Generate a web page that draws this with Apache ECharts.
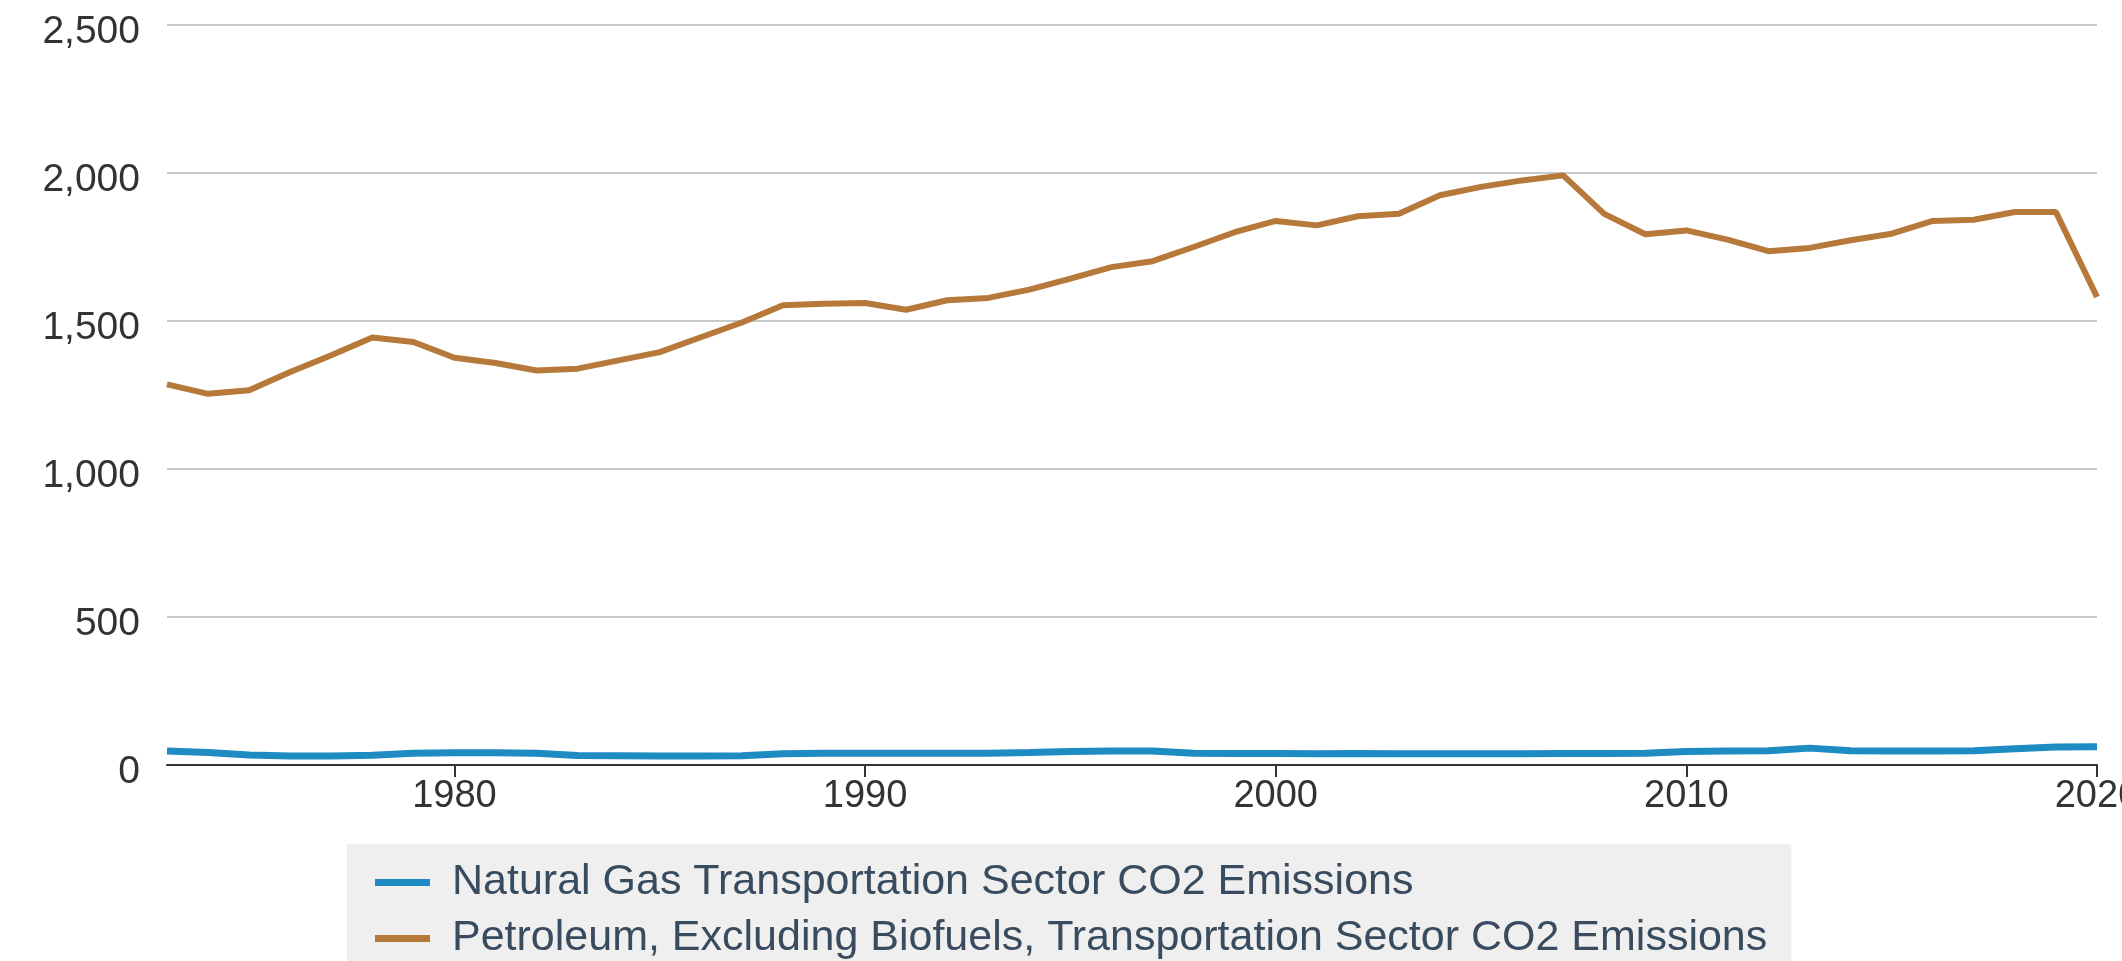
<!DOCTYPE html>
<html>
<head>
<meta charset="utf-8">
<script src="https://cdn.jsdelivr.net/npm/echarts@6/dist/echarts.min.js"></script>
<style>
  html, body { margin: 0; padding: 0; background: #fff; }
  #chart { width: 2122px; height: 961px; }
</style>
</head>
<body>
<div id="chart"></div>
<script>
const years = [
  '1973', '1974', '1975', '1976', '1977', '1978', '1979', '1980', '1981', '1982',
  '1983', '1984', '1985', '1986', '1987', '1988', '1989', '1990', '1991', '1992',
  '1993', '1994', '1995', '1996', '1997', '1998', '1999', '2000', '2001', '2002',
  '2003', '2004', '2005', '2006', '2007', '2008', '2009', '2010', '2011', '2012',
  '2013', '2014', '2015', '2016', '2017', '2018', '2019', '2020',
]
const naturalGas = [
  47, 42, 34, 30, 30, 33, 40, 41, 41, 40,
  32, 31, 30, 30, 31, 38, 40, 40, 40, 40,
  40, 42, 46, 47, 47, 40, 39, 39, 38, 39,
  38, 38, 38, 38, 39, 39, 40, 46, 47, 48,
  57, 48, 47, 47, 48, 55, 61, 62,
]
const petroleum = [
  1286, 1254, 1266, 1328, 1384, 1444, 1429, 1376, 1358, 1333,
  1339, 1367, 1395, 1445, 1495, 1553, 1558, 1561, 1538, 1570,
  1578, 1606, 1643, 1682, 1702, 1750, 1800, 1838, 1823, 1854,
  1862, 1925, 1953, 1975, 1992, 1862, 1793, 1806, 1775, 1736,
  1747, 1773, 1795, 1838, 1842, 1868, 1868, 1581,
]
const seriesNames = [
  'Natural Gas Transportation Sector CO2 Emissions',
  'Petroleum, Excluding Biofuels, Transportation Sector CO2 Emissions',
]

const chart = echarts.init(document.getElementById('chart'))
const font = '"Liberation Sans", Arial, Helvetica, sans-serif'
const decade = (idx, val) => Number(val) % 10 === 0

const option = {
  animation: false,
  textStyle: { fontFamily: font },
  grid: { left: 167, right: 25, top: 25, bottom: 196, outerBoundsMode: 'none' },
  legend: {
    orient: 'vertical',
    left: 347,
    top: 844,
    height: 300,
    backgroundColor: '#efefef',
    padding: [17, 24, 30, 28],
    itemWidth: 55,
    itemHeight: 7,
    itemGap: 13,
    icon: 'rect',
    textStyle: { fontSize: 43, color: '#394b5e', fontFamily: font, padding: [0, 0, 0, 17] },
    data: seriesNames,
  },
  xAxis: {
    type: 'category',
    data: years,
    boundaryGap: false,
    axisLine: { lineStyle: { color: '#333', width: 2 } },
    axisTick: { interval: decade, length: 12, lineStyle: { color: '#333', width: 2 } },
    axisLabel: { interval: decade, fontSize: 38, color: '#333', margin: 13 },
    splitLine: { show: false },
  },
  yAxis: {
    type: 'value',
    min: 0,
    max: 2500,
    interval: 500,
    axisLine: { show: false },
    axisTick: { show: false },
    axisLabel: {
      color: '#333',
      margin: 27,
      formatter: v => '{v|' + v.toLocaleString('en-US') + '}',
      rich: { v: { fontSize: 39, color: '#333', fontFamily: font, padding: [14, 0, 0, 0] } },
    },
    splitLine: { lineStyle: { color: '#c8c8c8', width: 2 } },
  },
  series: [
    {
      name: seriesNames[0],
      type: 'line',
      data: naturalGas,
      symbol: 'none',
      color: '#1f8bc3',
      lineStyle: { width: 7, color: '#1f8bc3' },
    },
    {
      name: seriesNames[1],
      type: 'line',
      data: petroleum,
      symbol: 'none',
      color: '#b7793a',
      lineStyle: { width: 6, color: '#b7793a' },
    },
  ],
}

chart.setOption(option)
</script>
</body>
</html>
